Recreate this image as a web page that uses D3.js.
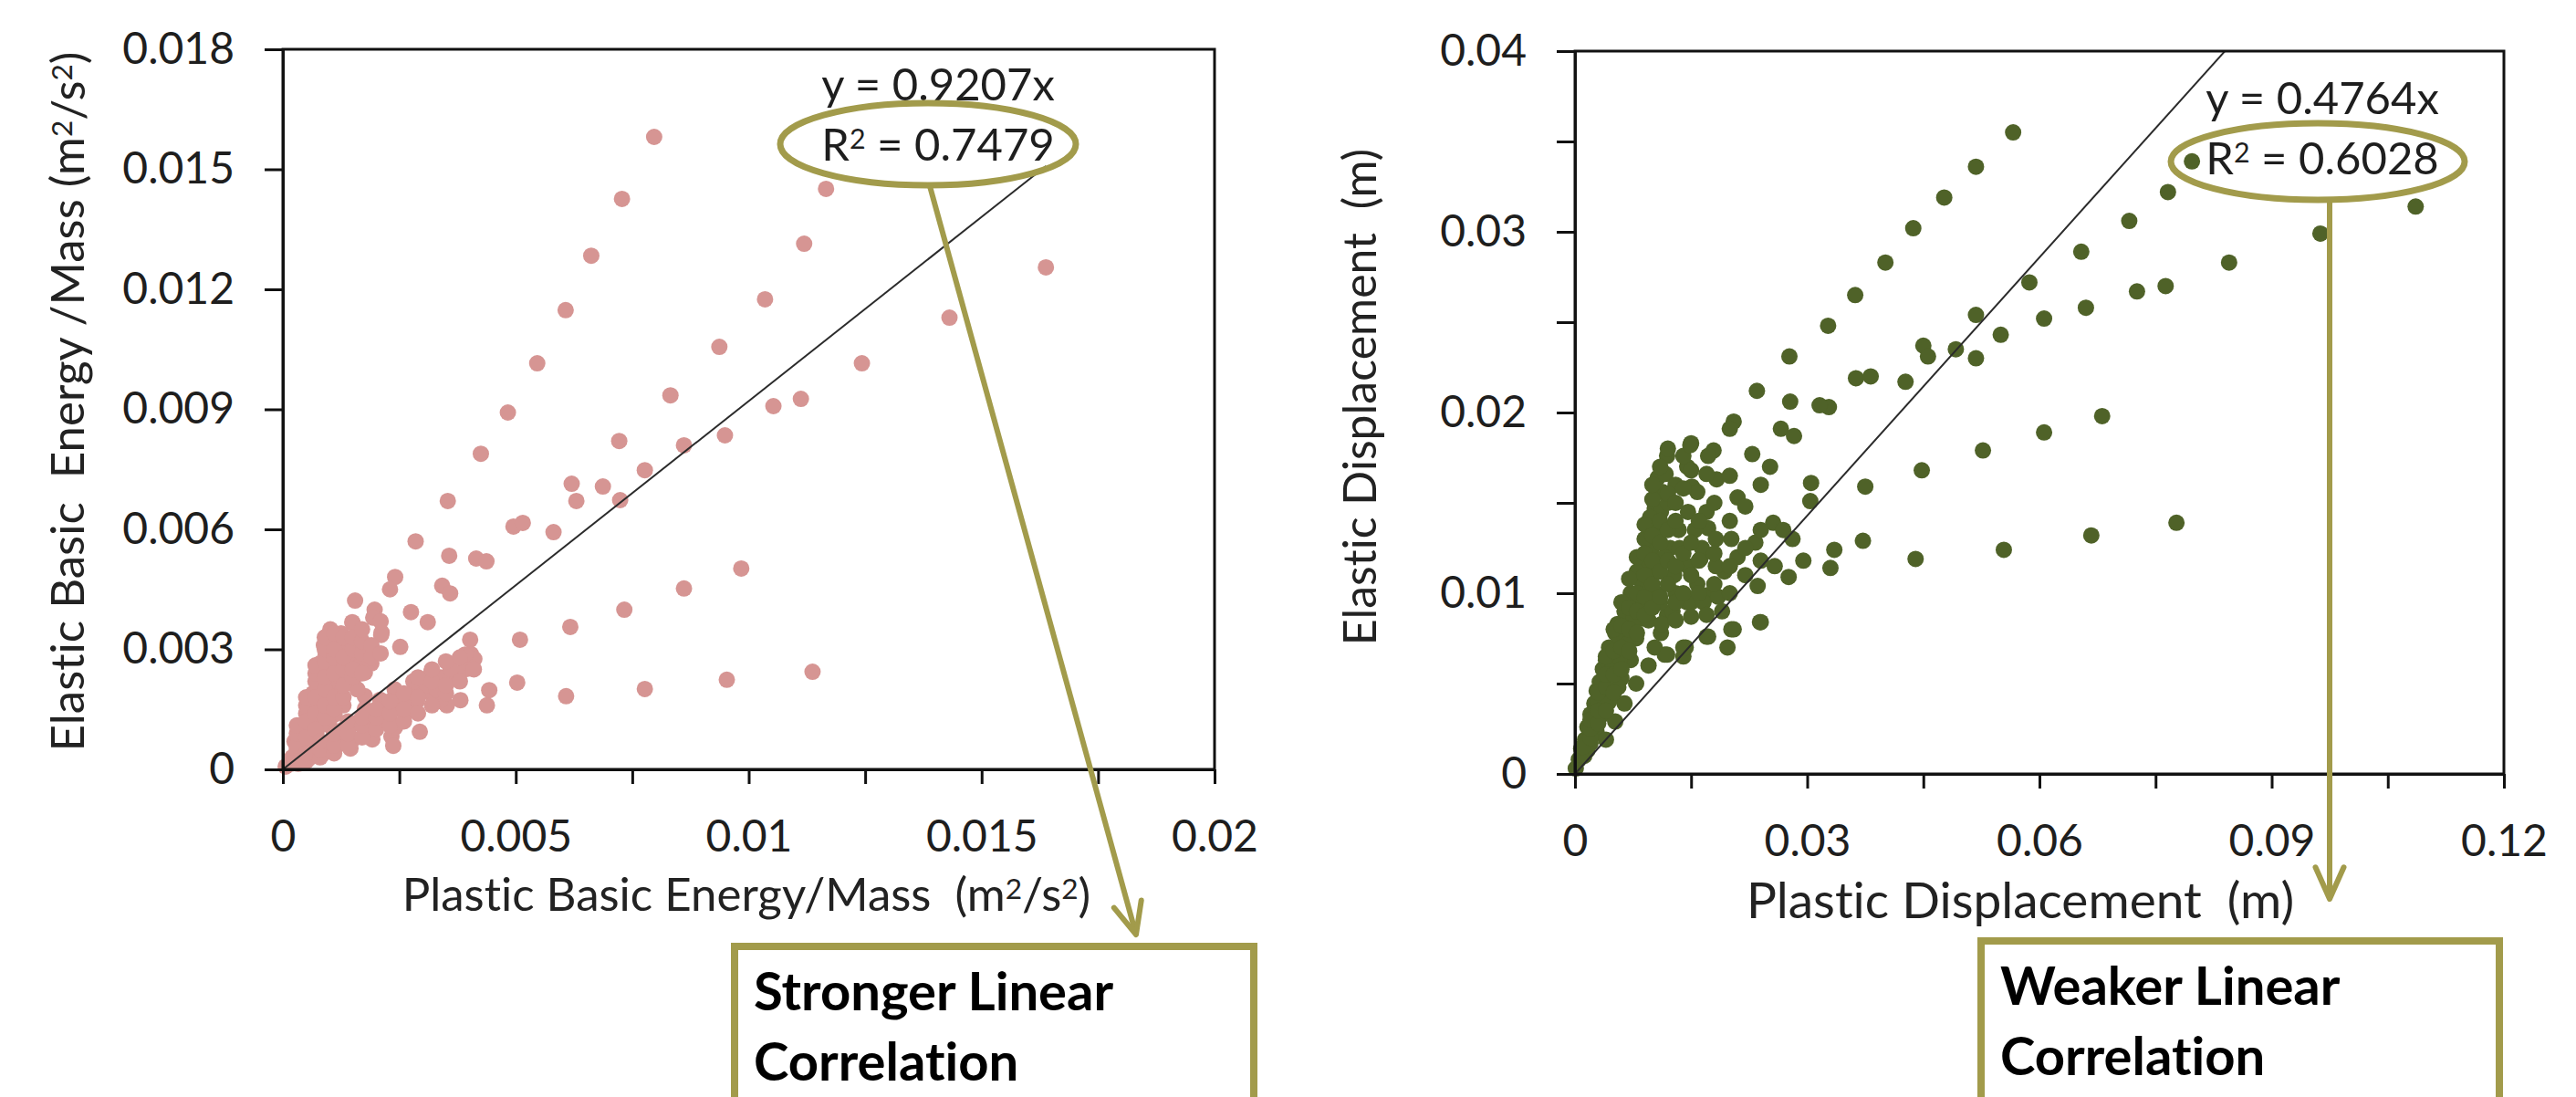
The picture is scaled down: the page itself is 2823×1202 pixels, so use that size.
<!DOCTYPE html>
<html>
<head>
<meta charset="utf-8">
<script src="https://cdn.jsdelivr.net/npm/d3@7"></script>
<style>
	body { margin: 0; background: #fff; }
	svg { display: block; font-family: Lato, 'Open Sans', sans-serif; font-variant-ligatures: none; }
</style>
</head>
<body>
<div id="chart"></div>
<script>

// --- left panel: basic energy / mass (plastic vs elastic)
const energyPoints = [
	[0.00797, 0.01581], [0.00728, 0.01426], [0.00662, 0.01284], [0.00607, 0.01148], [0.01166, 0.01451],
	[0.01119, 0.01314], [0.01035, 0.01175], [0.01638, 0.01255], [0.01431, 0.01129], [0.00937, 0.01056],
	[0.01243, 0.01015], [0.00832, 0.00935], [0.01053, 0.00908], [0.01112, 0.00926], [0.00722, 0.00821],
	[0.00861, 0.0081], [0.00949, 0.00835], [0.00546, 0.01015], [0.00483, 0.00892], [0.00425, 0.00789],
	[0.00777, 0.00748], [0.0062, 0.00714], [0.00687, 0.00707], [0.0063, 0.00671], [0.00724, 0.00673],
	[0.00354, 0.00671], [0.00495, 0.00607], [0.00515, 0.00616], [0.00581, 0.00593], [0.00285, 0.0057],
	[0.00357, 0.00534], [0.00415, 0.00527], [0.00437, 0.0052], [0.00241, 0.00481], [0.0023, 0.0045],
	[0.00342, 0.00459], [0.00359, 0.0044], [0.00984, 0.00502], [0.00861, 0.00452], [0.00155, 0.00422],
	[0.00197, 0.00399], [0.00275, 0.00393], [0.00149, 0.00368], [0.00311, 0.00368], [0.00733, 0.00399],
	[0.00617, 0.00356], [0.00211, 0.00336], [0.00102, 0.0035], [0.00252, 0.00306], [0.00402, 0.00324],
	[0.00509, 0.00324], [0.00404, 0.00288], [0.00391, 0.00265], [0.01137, 0.00244], [0.00953, 0.00224],
	[0.00503, 0.00217], [0.00777, 0.00201], [0.00443, 0.00198], [0.00608, 0.00183], [0.00438, 0.0016],
	[0.00381, 0.00173], [0.00346, 0.00167], [0.00294, 0.00094], [0.00233, 0.00082], [0.00192, 0.00075],
	[0.00237, 0.00059], [0.00145, 0.00052], [0.00194, 0.00379], [0.0015, 0.00365], [0.00212, 0.00342],
	[0.00163, 0.00326], [0.00411, 0.00276], [0.00395, 0.00251], [0.00376, 0.00235], [0.00352, 0.00217],
	[0.00319, 0.00244], [0.00339, 0.0023], [0.00352, 0.0016], [0.00294, 0.00212], [0.00281, 0.00196],
	[0.00288, 0.00171], [0.00307, 0.00196], [0.00241, 0.00183], [0.00209, 0.00137], [0.00176, 0.00183],
	[0.0015, 0.00114], [0.00123, 0.00082], [0.00229, 0.00125], [0.00264, 0.00144], [0.00176, 0.00094],
	[0.00082, 0.00059], [0.00059, 0.0003], [0.00033, 0.00014], [0.00092, 0.00287], [0.00098, 0.00251],
	[0.00084, 0.00212], [0.00072, 0.00173], [0.00059, 0.00137], [0.00045, 0.00098], [0.00033, 0.00059],
	[0.00123, 0.00287], [0.00137, 0.00258], [0.0015, 0.00287], [0.00176, 0.00303], [0.00111, 0.00212],
	[0.00123, 0.00189], [0.0015, 0.0022], [0.00176, 0.00242], [0.0019, 0.00265], [0.00098, 0.00151],
	[0.00084, 0.00121], [0.00111, 0.00137], [0.00072, 0.00091], [0.00059, 0.00068], [0.0002, 0.0003],
	[0.00006, 0.00007], [0.00176, 0.00151], [0.00209, 0.00174], [0.00241, 0.00151], [0.00274, 0.00189],
	[0.00319, 0.00189], [0.00339, 0.00173], [0.00202, 0.00114], [0.00241, 0.00105], [0.0015, 0.00075],
	[0.00111, 0.00052], [0.00084, 0.00037], [0.0036, 0.00251], [0.00391, 0.00287], [0.0008, 0.00265],
	[0.00088, 0.0031], [0.0011, 0.0032], [0.00125, 0.0034], [0.0013, 0.003], [0.0014, 0.0031],
	[0.001, 0.0024], [0.0012, 0.0026], [0.00065, 0.0019], [0.0007, 0.0022], [0.0005, 0.0014],
	[0.0004, 0.0011], [0.00025, 0.0007], [0.0003, 0.0005], [0.0012, 0.0022], [0.0013, 0.0016],
	[0.0016, 0.002], [0.0017, 0.0027], [0.0009, 0.0018], [0.001, 0.0011], [0.0004, 0.00035],
	[0.0006, 0.0005], [0.0013, 0.001], [0.0018, 0.0012], [0.0021, 0.0016], [0.0026, 0.0017],
	[0.0028, 0.0022], [0.0031, 0.0021], [0.0033, 0.002], [0.0024, 0.002], [0.0007, 0.0004],
	[0.001, 0.0007], [0.0002, 0.00015],
	// dense part near the origin
	[0.0003, 0.0006], [0.0003, 0.0009], [0.0003, 0.0011], [0.0005, 0.0008], [0.0005, 0.0012],
	[0.0005, 0.0016], [0.0005, 0.0018], [0.0007, 0.001], [0.0007, 0.0014], [0.0007, 0.0018],
	[0.0007, 0.0024], [0.0007, 0.0026], [0.0009, 0.0013], [0.0009, 0.0016], [0.0009, 0.002],
	[0.0009, 0.0023], [0.0009, 0.0027], [0.0009, 0.003], [0.0009, 0.0033], [0.0011, 0.0015],
	[0.0011, 0.0018], [0.0011, 0.0024], [0.0011, 0.0028], [0.0011, 0.003], [0.0011, 0.0034],
	[0.0013, 0.0018], [0.0013, 0.0021], [0.0013, 0.0025], [0.0013, 0.0028], [0.0013, 0.0033],
	[0.0015, 0.0023], [0.0015, 0.0025], [0.0015, 0.003], [0.0015, 0.0033], [0.0017, 0.0024],
	[0.0017, 0.0029], [0.0017, 0.0032], [0.0017, 0.0035], [0.0019, 0.0028], [0.0019, 0.0031],
	[0.0021, 0.0029], [0.0021, 0.0037], [0.0005, 0.0002], [0.0005, 0.0004], [0.0008, 0.0003],
	[0.0008, 0.0005], [0.0008, 0.0007], [0.0011, 0.0004], [0.0011, 0.0006], [0.0011, 0.0009],
	[0.0014, 0.0006], [0.0014, 0.0009], [0.0014, 0.0012], [0.0017, 0.0008], [0.0017, 0.0011],
	[0.0017, 0.0013], [0.002, 0.001], [0.002, 0.0013], [0.002, 0.0015], [0.0023, 0.0011],
	[0.0023, 0.0014], [0.0023, 0.0017], [0.0026, 0.0012], [0.0026, 0.0015], [0.0026, 0.0019],
	[0.0029, 0.0014], [0.0029, 0.0018], [0.0029, 0.0023], [0.0032, 0.0016], [0.0032, 0.0022],
	[0.0032, 0.0025], [0.0035, 0.0019], [0.0035, 0.0021], [0.0035, 0.0027], [0.0038, 0.0022],
	[0.0038, 0.0028], [0.0041, 0.0025]
];
const energyXTicks = [0, 0.0025, 0.005, 0.0075, 0.01, 0.0125, 0.015, 0.0175, 0.02];
const energyXLabels = [0, 0.005, 0.01, 0.015, 0.02];
const energyYTicks = [0, 0.003, 0.006, 0.009, 0.012, 0.015, 0.018];
const energyYLabels = [0, 0.003, 0.006, 0.009, 0.012, 0.015, 0.018];
const energyFit = { slope: 0.9207, r2: '0.7479' };

// --- right panel: displacement (plastic vs elastic)
const dispPoints = [
	[0.0566, 0.0355], [0.0518, 0.0336], [0.0477, 0.0319], [0.0437, 0.0302], [0.0401, 0.0283],
	[0.0362, 0.0265], [0.0327, 0.0248], [0.0797, 0.0339], [0.0766, 0.0322], [0.0716, 0.0306],
	[0.0654, 0.0289], [0.0845, 0.0283], [0.0963, 0.0299], [0.1086, 0.0314], [0.0587, 0.0272],
	[0.0726, 0.0267], [0.0763, 0.027], [0.066, 0.0258], [0.0606, 0.0252], [0.0518, 0.0254],
	[0.055, 0.0243], [0.045, 0.0237], [0.0456, 0.0231], [0.0492, 0.0235], [0.0518, 0.023],
	[0.0363, 0.0219], [0.0382, 0.022], [0.0427, 0.0217], [0.0328, 0.0203], [0.0681, 0.0198],
	[0.0606, 0.0189], [0.0527, 0.0179], [0.0277, 0.0231], [0.0235, 0.0212], [0.0278, 0.0206],
	[0.0316, 0.0204], [0.0205, 0.0195], [0.02, 0.0191], [0.0266, 0.0191], [0.0283, 0.0187],
	[0.015, 0.0183], [0.0179, 0.0179], [0.0229, 0.0177], [0.0448, 0.0168], [0.0375, 0.0159],
	[0.0305, 0.0161], [0.0304, 0.0151], [0.021, 0.0153], [0.0172, 0.0176], [0.0145, 0.017],
	[0.0252, 0.017], [0.0107, 0.0164], [0.0107, 0.0156], [0.0183, 0.0163], [0.0151, 0.0159],
	[0.0103, 0.0147], [0.0172, 0.0136], [0.0256, 0.0139], [0.0269, 0.0135], [0.0777, 0.0139],
	[0.0667, 0.0132], [0.0554, 0.0124], [0.044, 0.0119], [0.0372, 0.0129], [0.0335, 0.0124],
	[0.033, 0.0114], [0.0295, 0.0118], [0.0281, 0.013], [0.0202, 0.013], [0.0233, 0.0128],
	[0.0162, 0.0119], [0.021, 0.012], [0.0193, 0.0112], [0.0258, 0.0115], [0.0276, 0.0109],
	[0.0236, 0.0104], [0.0172, 0.0099], [0.0145, 0.0095], [0.0119, 0.0088], [0.0239, 0.0084],
	[0.0202, 0.008], [0.017, 0.0076], [0.0197, 0.007], [0.014, 0.007], [0.014, 0.0065],
	[0.0116, 0.0066], [0.0072, 0.01], [0.0055, 0.0083], [0.0044, 0.007], [0.0036, 0.0058],
	[0.0028, 0.0046], [0.002, 0.0033], [0.0013, 0.0019], [0.0005, 0.0008], [0.0087, 0.0086],
	[0.0079, 0.0075], [0.0072, 0.0063], [0.006, 0.0053], [0.0048, 0.0043], [0.0036, 0.0033],
	[0.0028, 0.0023], [0.0016, 0.0013], [0.0126, 0.009], [0.015, 0.0095], [0.0111, 0.0078],
	[0.0103, 0.007], [0.0119, 0.0066], [0.0095, 0.006], [0.0079, 0.005], [0.0064, 0.0039],
	[0.0052, 0.0029], [0.004, 0.0019], [0.0143, 0.007], [0.0172, 0.0076], [0.0205, 0.008],
	[0.024, 0.0084], [0.0166, 0.0095], [0.0185, 0.0098], [0.0064, 0.009], [0.0052, 0.0078],
	[0.004, 0.0063], [0.0032, 0.0051], [0.0025, 0.0039], [0.0016, 0.0026], [0.0008, 0.0014],
	[0.0001, 0.0003], [0.0099, 0.0125], [0.0093, 0.0115], [0.0087, 0.0105], [0.0105, 0.0135],
	[0.0111, 0.0145], [0.0113, 0.0156], [0.0117, 0.0166], [0.0123, 0.0125], [0.0134, 0.0135],
	[0.0146, 0.0145], [0.0158, 0.0156], [0.017, 0.0166], [0.0128, 0.011], [0.0146, 0.0115],
	[0.0164, 0.0125], [0.0182, 0.013], [0.0182, 0.0115], [0.0158, 0.0105], [0.014, 0.0176],
	[0.0087, 0.0095], [0.0075, 0.0085], [0.0105, 0.01], [0.0119, 0.0176], [0.0149, 0.0182],
	[0.008, 0.0112], [0.009, 0.013], [0.0097, 0.0142], [0.0068, 0.0095], [0.0058, 0.0076],
	[0.0048, 0.0062], [0.01, 0.011], [0.0115, 0.012], [0.0135, 0.0125], [0.011, 0.0095],
	[0.0095, 0.0085], [0.013, 0.01], [0.0155, 0.0135], [0.017, 0.0145], [0.012, 0.015],
	[0.013, 0.016], [0.01, 0.0152], [0.0068, 0.0072], [0.0058, 0.0064], [0.0112, 0.0083],
	[0.013, 0.0085], [0.015, 0.0087], [0.017, 0.0088], [0.019, 0.009], [0.003, 0.004],
	[0.0022, 0.003], [0.0012, 0.001], [0.002, 0.0017], [0.0044, 0.004], [0.0056, 0.0048],
	// dense wedge near the origin
	[0.001, 0.001], [0.001, 0.0015], [0.002, 0.002], [0.002, 0.0025], [0.002, 0.003],
	[0.003, 0.0028], [0.003, 0.0035], [0.003, 0.0045], [0.004, 0.0035], [0.004, 0.0048],
	[0.004, 0.0055], [0.004, 0.0065], [0.005, 0.0045], [0.005, 0.0055], [0.005, 0.0068],
	[0.005, 0.008], [0.006, 0.0058], [0.006, 0.007], [0.006, 0.0082], [0.006, 0.0095],
	[0.007, 0.0068], [0.007, 0.008], [0.007, 0.0092], [0.007, 0.0108], [0.008, 0.0078],
	[0.008, 0.009], [0.008, 0.01], [0.008, 0.012], [0.009, 0.0088], [0.009, 0.0098],
	[0.009, 0.011], [0.009, 0.0122], [0.009, 0.0138], [0.01, 0.0092], [0.01, 0.0105],
	[0.01, 0.0118], [0.01, 0.0132], [0.01, 0.016], [0.011, 0.0098], [0.011, 0.0112],
	[0.011, 0.0128], [0.011, 0.014], [0.011, 0.017], [0.012, 0.0105], [0.012, 0.0118],
	[0.012, 0.0135], [0.012, 0.0155], [0.012, 0.018], [0.013, 0.0095], [0.013, 0.0115],
	[0.013, 0.014], [0.013, 0.015], [0.014, 0.01], [0.014, 0.0122], [0.014, 0.0158],
	[0.015, 0.011], [0.015, 0.0128], [0.015, 0.0168], [0.016, 0.01], [0.016, 0.0118],
	[0.016, 0.014], [0.018, 0.0105], [0.018, 0.0122], [0.018, 0.015], [0.02, 0.01],
	[0.02, 0.0115], [0.02, 0.014], [0.02, 0.0165], [0.022, 0.011], [0.022, 0.0125],
	[0.022, 0.0148], [0.024, 0.0118], [0.024, 0.0135], [0.024, 0.016]
];
const dispXTicks = [0, 0.015, 0.03, 0.045, 0.06, 0.075, 0.09, 0.105, 0.12];
const dispXLabels = [0, 0.03, 0.06, 0.09, 0.12];
const dispYTicks = [0, 0.005, 0.01, 0.015, 0.02, 0.025, 0.03, 0.035, 0.04];
const dispYLabels = [0, 0.01, 0.02, 0.03, 0.04];
const dispFit = { slope: 0.4764, r2: '0.6028' };


class ScatterPanel {

	constructor(options) {
		this.svg = options.svg;
		this.id = options.id;
		this.data = options.data;
		this.box = options.box;
		this.xTicks = options.xTicks;
		this.xLabels = options.xLabels;
		this.yTicks = options.yTicks;
		this.yLabels = options.yLabels;
		this.fit = options.fit;
		this.color = options.color;
		this.radius = options.radius;
		this.titles = options.titles;

		this.draw();
	}

}


ScatterPanel.prototype.draw = function() {

	this.g = this.svg.append('g');

	this.createScales();
	this.createPoints();
	this.createTrend();
	this.createAxes();
	this.createTitles();

}


ScatterPanel.prototype.createScales = function() {

	this.xScale = d3.scaleLinear()
		.domain([0, d3.max(this.xTicks)])
		.range([this.box.left, this.box.right]);

	this.yScale = d3.scaleLinear()
		.domain([0, d3.max(this.yTicks)])
		.range([this.box.bottom, this.box.top]);

}


ScatterPanel.prototype.createPoints = function() {

	let that = this;

	this.g.append('g')
		.selectAll('circle')
		.data(this.data)
		.enter().append('circle')
			.attr('cx', function(d) { return that.xScale(d[0]); })
			.attr('cy', function(d) { return that.yScale(d[1]); })
			.attr('r', this.radius)
			.attr('fill', this.color);

}


ScatterPanel.prototype.createTrend = function() {

	let that = this;
	let maxX = d3.max(this.data, function(d) { return d[0]; });

	this.g.append('clipPath')
		.attr('id', 'clip-' + this.id)
		.append('rect')
			.attr('x', this.box.left)
			.attr('y', this.box.top)
			.attr('width', this.box.right - this.box.left)
			.attr('height', this.box.bottom - this.box.top);

	let line = d3.line()
		.x(function(d) { return that.xScale(d); })
		.y(function(d) { return that.yScale(d * that.fit.slope); });

	this.g.append('path')
		.datum([0, maxX])
		.attr('clip-path', 'url(#clip-' + this.id + ')')
		.attr('d', line)
		.attr('fill', 'none')
		.attr('stroke', '#2b2b2b')
		.attr('stroke-width', 2);

}


ScatterPanel.prototype.createAxes = function() {

	let fmt = function(labels) {
		return function(d) {
			let hit = labels.some(function(l) { return Math.abs(l - d) < 1e-9; });
			return hit ? String(+d.toFixed(4)) : '';
		};
	};

	// frame (top + right)
	this.g.append('rect')
		.attr('x', this.box.left)
		.attr('y', this.box.top)
		.attr('width', this.box.right - this.box.left)
		.attr('height', this.box.bottom - this.box.top)
		.attr('fill', 'none')
		.attr('stroke', '#111')
		.attr('stroke-width', 3);

	let xAxis = d3.axisBottom(this.xScale)
		.tickValues(this.xTicks)
		.tickSize(16)
		.tickSizeOuter(0)
		.tickPadding(40)
		.tickFormat(fmt(this.xLabels));

	let yAxis = d3.axisLeft(this.yScale)
		.tickValues(this.yTicks)
		.tickSize(20)
		.tickSizeOuter(0)
		.tickPadding(33)
		.tickFormat(fmt(this.yLabels));

	let gx = this.g.append('g')
		.attr('transform', `translate(0, ${this.box.bottom})`)
		.call(xAxis);

	let gy = this.g.append('g')
		.attr('transform', `translate(${this.box.left}, 0)`)
		.call(yAxis);

	[gx, gy].forEach(function(a) {
		a.select('.domain').attr('stroke', '#111').attr('stroke-width', 3);
		a.selectAll('.tick line').attr('stroke', '#111').attr('stroke-width', 3);
		a.selectAll('.tick text')
			.attr('fill', '#1e1e1e')
			.style('font-size', '48px')
			.style('font-family', 'Lato, sans-serif');
	});

}


// text with "2" superscripts written as ^2
ScatterPanel.prototype.richText = function(sel, str) {

	let parts = str.split('^');
	sel.append('tspan').text(parts[0]);
	for (let i = 1; i < parts.length; i++) {
		sel.append('tspan')
			.attr('dy', '-0.42em')
			.style('font-size', '0.62em')
			.text(parts[i][0]);
		sel.append('tspan')
			.attr('dy', '0.27em')
			.text(parts[i].slice(1));
	}

}


ScatterPanel.prototype.createTitles = function() {

	let t = this.titles;

	let xt = this.g.append('text')
		.attr('x', t.xPos[0])
		.attr('y', t.xPos[1])
		.attr('text-anchor', 'middle')
		.attr('fill', '#222')
		.style('font-size', t.xSize + 'px')
		.attr('xml:space', 'preserve');
	this.richText(xt, t.x);

	let yt = this.g.append('text')
		.attr('transform', `translate(${t.yPos[0]}, ${t.yPos[1]}) rotate(-90)`)
		.attr('text-anchor', 'middle')
		.attr('fill', '#222')
		.style('font-size', t.ySize + 'px')
		.attr('xml:space', 'preserve');
	this.richText(yt, t.y);

	// equation + R^2 callout
	let eq = this.svg.append('g');

	eq.append('text')
		.attr('x', t.eq[0])
		.attr('y', t.eq[1])
		.attr('text-anchor', 'middle')
		.attr('fill', '#1e1e1e')
		.style('font-size', '49px')
		.text('y = ' + this.fit.slope + 'x');

	let r2 = eq.append('text')
		.attr('x', t.eq[0])
		.attr('y', t.eq[1] + 66)
		.attr('text-anchor', 'middle')
		.attr('fill', '#1e1e1e')
		.style('font-size', '49px');
	this.richText(r2, 'R^2 = ' + this.fit.r2);

}


function drawCallout(svg, c) {

	let olive = '#a29b4b';

	svg.append('ellipse')
		.attr('cx', c.ellipse[0])
		.attr('cy', c.ellipse[1])
		.attr('rx', c.ellipse[2])
		.attr('ry', c.ellipse[3])
		.attr('fill', 'none')
		.attr('stroke', olive)
		.attr('stroke-width', 7);

	let x1 = c.from[0], y1 = c.from[1], x2 = c.to[0], y2 = c.to[1];
	let ang = Math.atan2(y2 - y1, x2 - x1);
	let head = 38, spread = 0.42;

	svg.append('line')
		.attr('x1', x1).attr('y1', y1)
		.attr('x2', x2).attr('y2', y2)
		.attr('stroke', olive)
		.attr('stroke-width', 6);

	svg.append('path')
		.attr('d', d3.line()([
			[x2 - head * Math.cos(ang - spread), y2 - head * Math.sin(ang - spread)],
			[x2, y2],
			[x2 - head * Math.cos(ang + spread), y2 - head * Math.sin(ang + spread)]
		]))
		.attr('fill', 'none')
		.attr('stroke', olive)
		.attr('stroke-width', 6)
		.attr('stroke-linejoin', 'round')
		.attr('stroke-linecap', 'round');

	svg.append('rect')
		.attr('x', c.box[0])
		.attr('y', c.box[1])
		.attr('width', c.box[2])
		.attr('height', 300)
		.attr('fill', '#fff')
		.attr('stroke', olive)
		.attr('stroke-width', 8);

	c.lines.forEach(function(l, i) {
		svg.append('text')
			.attr('x', c.box[0] + 21)
			.attr('y', c.box[1] + 70 + i * 77)
			.attr('fill', '#000')
			.style('font-size', '58px')
			.style('font-weight', 700)
			.text(l);
	});

}


const svg = d3.select('#chart')
	.append('svg')
		.attr('width', 2823)
		.attr('height', 1202);

new ScatterPanel({
	svg: svg,
	id: 'energy',
	data: energyPoints,
	box: { left: 310, right: 1331, top: 54, bottom: 843 },
	xTicks: energyXTicks,
	xLabels: energyXLabels,
	yTicks: energyYTicks,
	yLabels: energyYLabels,
	fit: energyFit,
	color: '#d69593',
	radius: 9,
	titles: {
		x: 'Plastic Basic Energy/Mass  (m^2/s^2)',
		xPos: [818, 998],
		xSize: 51,
		y: 'Elastic Basic  Energy /Mass (m^2/s^2)',
		yPos: [92, 440],
		ySize: 51,
		eq: [1028, 110]
	}
});

new ScatterPanel({
	svg: svg,
	id: 'disp',
	data: dispPoints,
	box: { left: 1726, right: 2744, top: 56, bottom: 848 },
	xTicks: dispXTicks,
	xLabels: dispXLabels,
	yTicks: dispYTicks,
	yLabels: dispYLabels,
	fit: dispFit,
	color: '#4f6228',
	radius: 9,
	titles: {
		x: 'Plastic Displacement  (m)',
		xPos: [2214, 1006],
		xSize: 55,
		y: 'Elastic Displacement  (m)',
		yPos: [1508, 435],
		ySize: 50,
		eq: [2545, 125]
	}
});

drawCallout(svg, {
	ellipse: [1017, 158, 162, 45],
	from: [1019, 204],
	to: [1245, 1024],
	box: [805, 1037, 569],
	lines: ['Stronger Linear', 'Correlation']
});

drawCallout(svg, {
	ellipse: [2540, 177, 161, 42],
	from: [2553, 220],
	to: [2553, 985],
	box: [2171, 1031, 568],
	lines: ['Weaker Linear', 'Correlation']
});

</script>
</body>
</html>
